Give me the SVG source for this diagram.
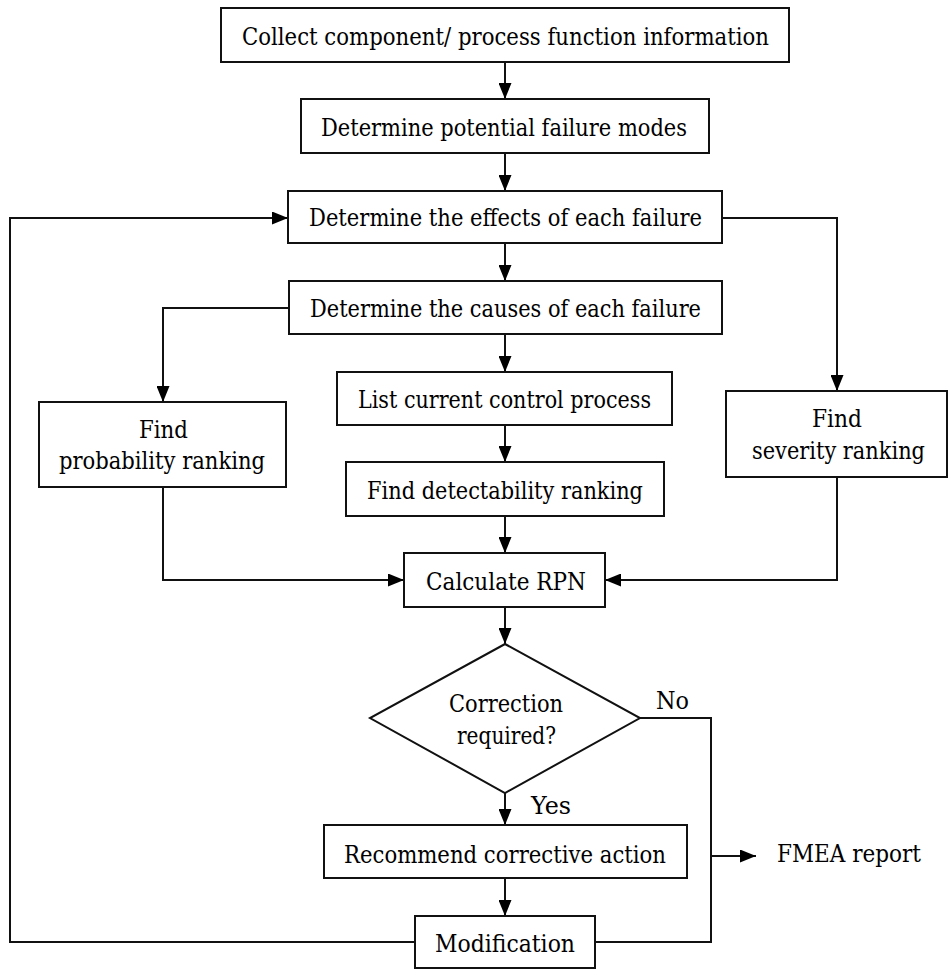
<svg xmlns="http://www.w3.org/2000/svg" width="949" height="969" viewBox="0 0 949 969">
<style>
.box{fill:#fff;stroke:#111;stroke-width:2}
.t{font-family:'DejaVu Serif','Liberation Serif','Times New Roman',serif;font-size:23.5px;fill:#000;text-anchor:middle}
.c{fill:none;stroke:#111;stroke-width:2}
</style>
<defs>
<marker id="ah" markerUnits="userSpaceOnUse" markerWidth="16" markerHeight="13" refX="16" refY="6.5" orient="auto">
<path d="M0,0 L16,6.5 L0,13 z" fill="#000"/>
</marker>
</defs>
<rect width="949" height="969" fill="#fff"/>
<g id="connectors">
<path class="c" d="M505,62 V99" marker-end="url(#ah)"/>
<path class="c" d="M505,153 V191" marker-end="url(#ah)"/>
<path class="c" d="M505,243 V281" marker-end="url(#ah)"/>
<path class="c" d="M722,218 H837 V391" marker-end="url(#ah)"/>
<path class="c" d="M289,308 H163 V402" marker-end="url(#ah)"/>
<path class="c" d="M505,334 V372" marker-end="url(#ah)"/>
<path class="c" d="M505,425 V462" marker-end="url(#ah)"/>
<path class="c" d="M505,516 V553" marker-end="url(#ah)"/>
<path class="c" d="M163,487 V580 H404" marker-end="url(#ah)"/>
<path class="c" d="M837,477 V580 H605" marker-end="url(#ah)"/>
<path class="c" d="M505,607 V644" marker-end="url(#ah)"/>
<path class="c" d="M505,793 V825" marker-end="url(#ah)"/>
<path class="c" d="M640,718 H711 V942 H595"/>
<path class="c" d="M711,856 H756" marker-end="url(#ah)"/>
<path class="c" d="M505,878 V916" marker-end="url(#ah)"/>
<path class="c" d="M415,942 H10 V218 H288" marker-end="url(#ah)"/>
<text class="t" x="672.5" y="709" textLength="33" lengthAdjust="spacingAndGlyphs">No</text>
<text class="t" x="551" y="814" textLength="40" lengthAdjust="spacingAndGlyphs">Yes</text>
<text class="t" x="777" y="862" style="text-anchor:start" textLength="144" lengthAdjust="spacingAndGlyphs">FMEA report</text>
</g>
<g id="n1"><rect class="box" x="221" y="8" width="568" height="54"/><text class="t" x="505.5" y="45" textLength="527" lengthAdjust="spacingAndGlyphs">Collect component/ process function information</text></g>
<g id="n2"><rect class="box" x="301" y="99" width="408" height="54"/><text class="t" x="504" y="136" textLength="366" lengthAdjust="spacingAndGlyphs">Determine potential failure modes</text></g>
<g id="n3"><rect class="box" x="288" y="191" width="434" height="52"/><text class="t" x="505.5" y="226" textLength="393" lengthAdjust="spacingAndGlyphs">Determine the effects of each failure</text></g>
<g id="n4"><rect class="box" x="289" y="281" width="433" height="53"/><text class="t" x="505.5" y="317" textLength="391" lengthAdjust="spacingAndGlyphs">Determine the causes of each failure</text></g>
<g id="n5"><rect class="box" x="39" y="402" width="247" height="85"/><text class="t" x="163.5" y="438" textLength="49" lengthAdjust="spacingAndGlyphs">Find</text><text class="t" x="162" y="469" textLength="206" lengthAdjust="spacingAndGlyphs">probability ranking</text></g>
<g id="n6"><rect class="box" x="337" y="372" width="335" height="53"/><text class="t" x="504.5" y="408" textLength="293" lengthAdjust="spacingAndGlyphs">List current control process</text></g>
<g id="n7"><rect class="box" x="346" y="462" width="318" height="54"/><text class="t" x="505" y="499" textLength="276" lengthAdjust="spacingAndGlyphs">Find detectability ranking</text></g>
<g id="n8"><rect class="box" x="726" y="391" width="221" height="86"/><text class="t" x="837" y="427" textLength="50" lengthAdjust="spacingAndGlyphs">Find</text><text class="t" x="838.5" y="459" textLength="173" lengthAdjust="spacingAndGlyphs">severity ranking</text></g>
<g id="n9"><rect class="box" x="404" y="553" width="201" height="54"/><text class="t" x="506" y="590" textLength="160" lengthAdjust="spacingAndGlyphs">Calculate RPN</text></g>
<g id="n10"><polygon class="box" points="505,644 640,718 505,793 370,718"/><text class="t" x="506" y="712" textLength="114" lengthAdjust="spacingAndGlyphs">Correction</text><text class="t" x="506.5" y="744" textLength="99" lengthAdjust="spacingAndGlyphs">required?</text></g>
<g id="n11"><rect class="box" x="324" y="825" width="363" height="53"/><text class="t" x="505" y="863" textLength="322" lengthAdjust="spacingAndGlyphs">Recommend corrective action</text></g>
<g id="n12"><rect class="box" x="415" y="916" width="180" height="52"/><text class="t" x="505" y="952" textLength="140" lengthAdjust="spacingAndGlyphs">Modification</text></g>
</svg>
